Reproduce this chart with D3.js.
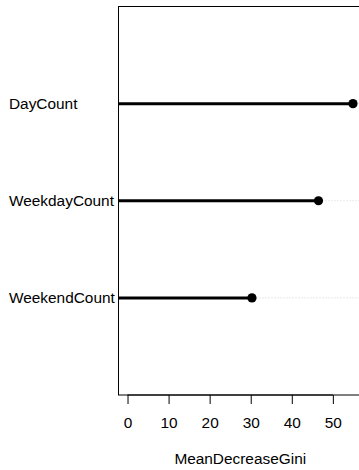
<!DOCTYPE html>
<html>
<head>
<meta charset="utf-8">
<script src="https://cdn.jsdelivr.net/npm/d3@7"></script>
<style>
  html, body { margin: 0; padding: 0; background: #fff; }
  svg { display: block; }
  text { font-family: "Liberation Sans", Arial, Helvetica, sans-serif; fill: #000; }
</style>
</head>
<body>
<script>
// Variable importance (MeanDecreaseGini), listed bottom to top
const variables = ["WeekendCount", "WeekdayCount", "DayCount"];
const giniValues = [30.3, 46.5, 54.9];
const xTicks = [0, 10, 20, 30, 40, 50];
const xTitle = "MeanDecreaseGini";

const W = 359, H = 470;
const plot = { left: 118.5, right: 362, top: 6.5, bottom: 395 };
const fontSize = 15.4;

const svg = d3.select("body").append("svg")
  .attr("width", W).attr("height", H);

// R-style 4% expansion around [0, max]
const xMax = d3.max(giniValues);
const pad = xMax * 0.04;
const x = d3.scaleLinear()
  .domain([-pad, xMax + pad])
  .range([plot.left, plot.right]);

const y = d3.scaleLinear()
  .domain([0, variables.length + 1])
  .range([plot.bottom, plot.top]);

// dotted guide lines across the panel
svg.selectAll("line.guide").data(variables).join("line")
  .attr("class", "guide")
  .attr("x1", plot.left).attr("x2", plot.right)
  .attr("y1", (d, i) => y(i + 1)).attr("y2", (d, i) => y(i + 1))
  .attr("stroke", "#d3d3d3").attr("stroke-width", 1)
  .attr("stroke-dasharray", "1,2");

// thick segments from the left edge to each value
svg.selectAll("line.seg").data(giniValues).join("line")
  .attr("class", "seg")
  .attr("x1", plot.left).attr("x2", d => x(d))
  .attr("y1", (d, i) => y(i + 1)).attr("y2", (d, i) => y(i + 1))
  .attr("stroke", "#000").attr("stroke-width", 3);

// points
svg.selectAll("circle.pt").data(giniValues).join("circle")
  .attr("class", "pt")
  .attr("cx", d => x(d)).attr("cy", (d, i) => y(i + 1))
  .attr("r", 4.6).attr("fill", "#000");

// panel box
svg.append("rect")
  .attr("x", plot.left).attr("y", plot.top)
  .attr("width", plot.right - plot.left).attr("height", plot.bottom - plot.top)
  .attr("fill", "none").attr("stroke", "#000").attr("stroke-width", 1);

// category labels, left-aligned
svg.selectAll("text.lab").data(variables).join("text")
  .attr("class", "lab")
  .attr("x", 9).attr("y", (d, i) => y(i + 1))
  .attr("dy", "0.36em")
  .attr("font-size", fontSize)
  .text(d => d);

// bottom axis
const axis = d3.axisBottom(x).tickValues(xTicks).tickSize(9).tickPadding(13.5)
  .tickFormat(d3.format("d"));
const gx = svg.append("g")
  .attr("transform", `translate(0,${plot.bottom})`)
  .call(axis);
gx.select(".domain").attr("d", `M${x(xTicks[0])},0H${x(xTicks[xTicks.length - 1])}`)
  .attr("stroke", "#000");
gx.selectAll(".tick line").attr("stroke", "#000");
gx.selectAll(".tick text")
  .attr("font-size", fontSize)
  .attr("font-family", "Liberation Sans, Arial, sans-serif")
  .attr("fill", "#000");

svg.append("text")
  .attr("x", (plot.left + plot.right) / 2).attr("y", 464)
  .attr("text-anchor", "middle")
  .attr("font-size", fontSize)
  .text(xTitle);
</script>
</body>
</html>
